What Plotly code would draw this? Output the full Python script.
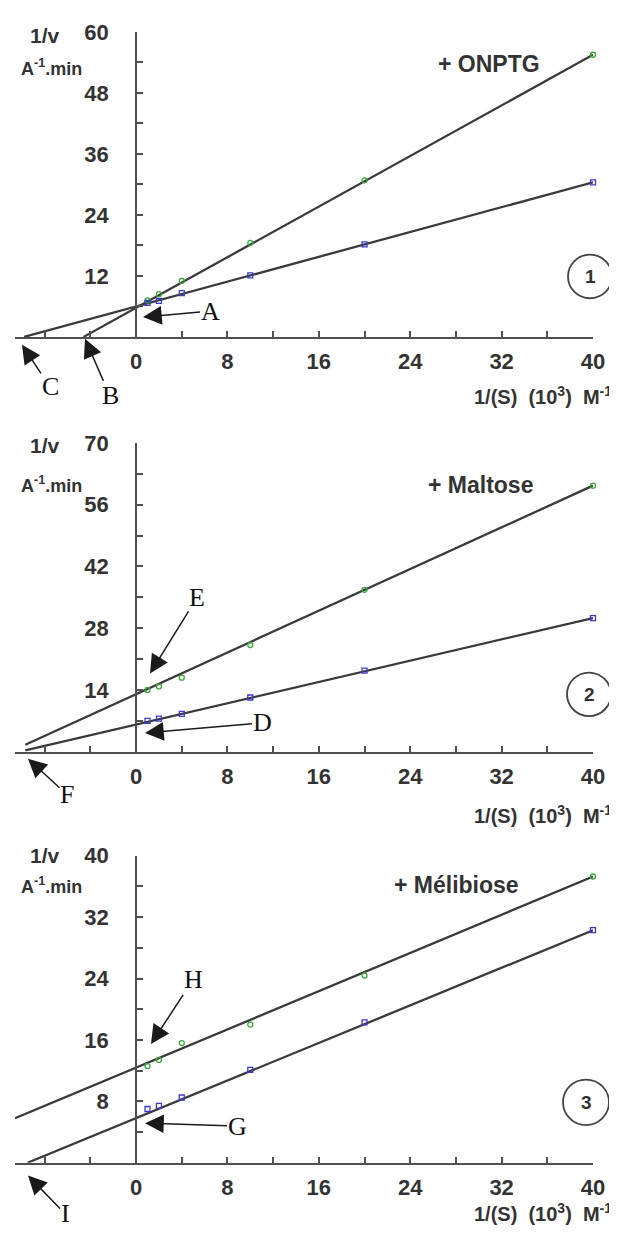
import plotly.graph_objects as go

# Page body has an 8px margin: all reference pixel positions are shifted by OFF.
OFF = 8
W, H = 617 - OFF, 1238 - OFF
ML, MR = 15 - OFF, 24
PW = W - ML - MR

# ---------------- data ----------------
inv_s = [1, 2, 4, 10, 20, 40]          # 1/(S) (10^3 M^-1)

p1_green = [7.2, 8.4, 11.0, 18.5, 30.8, 55.5]
p1_blue = [6.7, 7.1, 8.6, 12.1, 18.2, 30.4]
p1_green_line_x = [-4.6, 40]
p1_green_line_y = [0.0, 55.5]
p1_blue_line_x = [-9.8, 40]
p1_blue_line_y = [0.0, 30.4]

p2_green = [14.0, 14.8, 16.8, 24.2, 36.7, 60.3]
p2_blue = [7.0, 7.5, 8.6, 12.3, 18.4, 30.3]
p2_green_line_x = [-9.7, 40]
p2_green_line_y = [1.6, 60.3]
p2_blue_line_x = [-9.7, 40]
p2_blue_line_y = [0.3, 30.3]

p3_green = [12.6, 13.4, 15.6, 18.0, 24.4, 37.3]
p3_blue = [7.0, 7.4, 8.5, 12.1, 18.3, 30.3]
p3_green_line_x = [-10.6, 40]
p3_green_line_y = [5.8, 37.3]
p3_blue_line_x = [-9.5, 40]
p3_blue_line_y = [0.0, 30.3]

x_ticks = [0, 8, 16, 24, 32, 40]
y_ticks_1 = [12, 24, 36, 48, 60]
y_ticks_2 = [14, 28, 42, 56, 70]
y_ticks_3 = [8, 16, 24, 32, 40]
panel_titles = ["+ ONPTG", "+ Maltose", "+ Mélibiose"]
panel_numbers = ["1", "2", "3"]

XMIN, XMAX = -10.6, 40

# ---------------- helpers (screen px -> paper) ----------------
def px(x):
    return (x - OFF - ML) / PW

def py(y):
    return 1 - (y - OFF) / H

AXC = "#505050"
LINEC = "#3a3a3a"
GREEN = "#3aa63a"
BLUE = "#3a3ad0"
SANS = "Liberation Sans, Arial, sans-serif"
SERIF = "Liberation Serif, Times New Roman, serif"

fig = go.Figure()

panels = [
    dict(green=p1_green, blue=p1_blue,
         gl=(p1_green_line_x, p1_green_line_y), bl=(p1_blue_line_x, p1_blue_line_y),
         yt=y_ticks_1, yr=[0, 60], minor=6, dom=(20, 328)),
    dict(green=p2_green, blue=p2_blue,
         gl=(p2_green_line_x, p2_green_line_y), bl=(p2_blue_line_x, p2_blue_line_y),
         yt=y_ticks_2, yr=[0, 70], minor=7, dom=(435, 747)),
    dict(green=p3_green, blue=p3_blue,
         gl=(p3_green_line_x, p3_green_line_y), bl=(p3_blue_line_x, p3_blue_line_y),
         yt=y_ticks_3, yr=[0, 40], minor=4, dom=(852, 1162)),
]

ypos = (0 - XMIN) / (XMAX - XMIN)

for i, p in enumerate(panels):
    n = "" if i == 0 else str(i + 1)
    xa, ya = "x" + n, "y" + n
    for (lx, ly) in (p["gl"], p["bl"]):
        fig.add_trace(go.Scatter(x=lx, y=ly, mode="lines", xaxis=xa, yaxis=ya,
                                 line=dict(color=LINEC, width=2.3),
                                 showlegend=False, hoverinfo="skip", cliponaxis=False))
    fig.add_trace(go.Scatter(x=inv_s, y=p["green"], mode="markers", xaxis=xa, yaxis=ya,
                             marker=dict(symbol="circle-open", size=5, color=GREEN,
                                         line=dict(width=1.3, color=GREEN)),
                             showlegend=False, cliponaxis=False))
    fig.add_trace(go.Scatter(x=inv_s, y=p["blue"], mode="markers", xaxis=xa, yaxis=ya,
                             marker=dict(symbol="square-open", size=5, color=BLUE,
                                         line=dict(width=1.3, color=BLUE)),
                             showlegend=False, cliponaxis=False))
    top, bot = p["dom"]
    fig.layout["xaxis" + n] = dict(
        domain=[0, 1], range=[XMIN, XMAX], anchor=ya,
        showline=True, linecolor=AXC, linewidth=2, showgrid=False, zeroline=False,
        ticks="inside", ticklen=6, tickwidth=1.5, tickcolor=AXC,
        tickvals=x_ticks, ticktext=[str(v) for v in x_ticks],
        minor=dict(dtick=4, tick0=0, ticks="inside", ticklen=6, tickwidth=1.5, tickcolor=AXC),
        tickfont=dict(family=SANS, size=22, color="#333333", weight="bold"),
        ticklabelstandoff=4, fixedrange=True,
    )
    fig.layout["yaxis" + n] = dict(
        domain=[py(bot), py(top)], range=p["yr"], anchor="free", position=ypos,
        showline=True, linecolor=AXC, linewidth=2, showgrid=False, zeroline=False,
        ticks="inside", ticklen=6, tickwidth=1.5, tickcolor=AXC,
        tickvals=p["yt"], ticktext=[str(v) for v in p["yt"]],
        minor=dict(dtick=p["minor"], tick0=0, ticks="inside", ticklen=6, tickwidth=1.5, tickcolor=AXC),
        tickfont=dict(family=SANS, size=22, color="#333333", weight="bold"),
        ticklabelstandoff=22, fixedrange=True,
    )

ann = []
shapes = []

vlab_y = [24, 438, 852]
alab_y = [56, 477, 882]
xt_y = [387, 810, 1212]
title_pos = [(489, 52), (480, 478), (457, 882)]
circ = [(590, 267, 22), (589, 689, 22), (586, 1101, 23)]

for i in range(3):
    ann.append(dict(xref="paper", yref="paper", x=px(45), y=py(vlab_y[i]), text="1/v",
                    showarrow=False, xanchor="center", yanchor="middle",
                    font=dict(family=SANS, size=21, color="#333333", weight="bold")))
    ann.append(dict(xref="paper", yref="paper", x=px(51), y=py(alab_y[i]),
                    text="A<sup>-1</sup>.min",
                    showarrow=False, xanchor="center", yanchor="middle",
                    font=dict(family=SANS, size=18, color="#333333", weight="bold")))
    ann.append(dict(xref="paper", yref="paper", x=px(614), y=py(xt_y[i]),
                    text="1/(S)&nbsp;&nbsp;(10<sup>3</sup>)&nbsp;&nbsp;M<sup>-1</sup>",
                    showarrow=False, xanchor="right", yanchor="middle",
                    font=dict(family=SANS, size=20, color="#333333", weight="bold")))
    tx, ty = title_pos[i]
    ann.append(dict(xref="paper", yref="paper", x=px(tx), y=py(ty), text=panel_titles[i],
                    showarrow=False, xanchor="center", yanchor="middle",
                    font=dict(family=SANS, size=23, color="#333333", weight="bold")))
    cx, cy, r = circ[i]
    shapes.append(dict(type="circle", xref="paper", yref="paper",
                       x0=px(cx - r), x1=px(cx + r), y0=py(cy + r), y1=py(cy - r),
                       line=dict(color="#444444", width=1.8)))
    ann.append(dict(xref="paper", yref="paper", x=px(cx), y=py(cy), text=panel_numbers[i],
                    showarrow=False, xanchor="center", yanchor="middle",
                    font=dict(family=SANS, size=19, color="#333333", weight="bold")))

# letters with arrows: (letter, text center, arrow head)
letters = [
    ("A", (210, 302), (143, 308)),
    ("B", (110, 387), (85, 330)),
    ("C", (50, 378), (22, 336)),
    ("E", (197, 592), (150, 668)),
    ("D", (262, 718), (145, 728)),
    ("F", (67, 790), (28, 754)),
    ("H", (193, 978), (151, 1042)),
    ("G", (237, 1125), (145, 1122)),
    ("I", (65, 1213), (28, 1175)),
]
for L, (lx, ly), (hx, hy) in letters:
    ann.append(dict(xref="paper", yref="paper", x=px(hx), y=py(hy), text=L,
                    showarrow=True, ax=lx - hx, ay=ly - hy, axref="pixel", ayref="pixel",
                    arrowhead=2, arrowsize=2.5, arrowwidth=1.5, arrowcolor="#1a1a1a",
                    standoff=0, startstandoff=0, borderpad=0,
                    font=dict(family=SERIF, size=26, color="#111111")))

fig.update_layout(
    width=W, height=H,
    margin=dict(l=ML, r=MR, t=0, b=0, pad=0),
    paper_bgcolor="white", plot_bgcolor="white",
    showlegend=False,
    annotations=ann, shapes=shapes,
)

fig.write_html("out.html")
